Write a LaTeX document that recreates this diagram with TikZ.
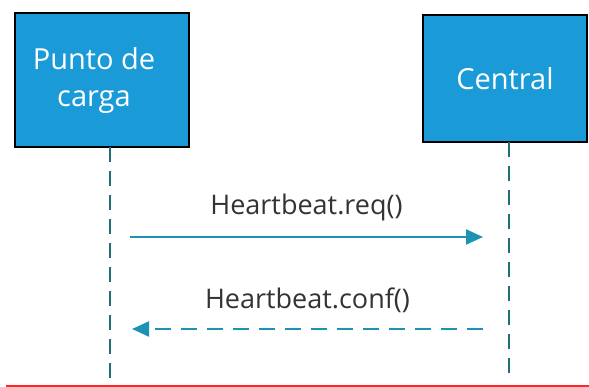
\documentclass[tikz,border=0pt]{standalone}
\usepackage{fontspec}
\setmainfont{Open Sans}
\usetikzlibrary{positioning,arrows.meta}

\definecolor{boxblue}{HTML}{1A9BD7}
\definecolor{msgteal}{HTML}{1C93B3}
\definecolor{lifeteal}{HTML}{1F6E78}
\definecolor{msgtext}{HTML}{333333}

\tikzset{
    actor/.style={draw=black, line width=1.8pt, fill=boxblue, text=white,
        font=\fontsize{29}{37}\selectfont, align=center},
    actortext/.style={text=white, font=\fontsize{29}{37}\selectfont, align=center},
    lifeline/.style={lifeteal, line width=2.2pt, dash pattern=on 15pt off 9pt},
    msg/.style={msgteal, line width=2.2pt, -{Triangle[length=17pt,width=15pt]}},
    reply/.style={msg, dash pattern=on 16pt off 10pt},
    msglabel/.style={text=msgtext, font=\fontsize{27}{30}\selectfont}
}

\begin{document}
\begin{tikzpicture}[x=1pt,y=-1pt]
    \useasboundingbox (0,0) rectangle (589,387);

    % participants
    \node[actor, minimum width=174pt, minimum height=134pt] (punto) at (102,80) {};
    \node[actortext] (puntotext) at ([xshift=-8pt]punto.center) {Punto de\\carga};
    \node[actor, minimum width=164pt, minimum height=127pt] (central) at (505,78.5) {Central};

    % lifelines
    \coordinate (puntoTop) at (110,147);
    \coordinate (puntoEnd) at (110,378);
    \coordinate (centralTop) at (509,142);
    \coordinate (centralEnd) at (509,374);
    \draw[lifeline] (puntoTop) -- (puntoEnd);
    \draw[lifeline] (centralTop) -- (centralEnd);

    % messages
    \coordinate (reqA) at (130,237);
    \coordinate (reqB) at (483,237);
    \coordinate (confA) at (483,329);
    \coordinate (confB) at (132,329);
    \draw[msg] (reqA) -- (reqB) node[msglabel, midway, above=12pt] (reqlabel) {Heartbeat.req()};
    \draw[reply] (confA) -- (confB) node[msglabel, midway, above=12pt] (conflabel) {Heartbeat.conf()};

    % bottom rule
    \coordinate (ruleA) at (6,385.5);
    \coordinate (ruleB) at (589,385.5);
    \draw[red!85!white, line width=2pt] (ruleA) -- (ruleB);
\end{tikzpicture}
\end{document}
